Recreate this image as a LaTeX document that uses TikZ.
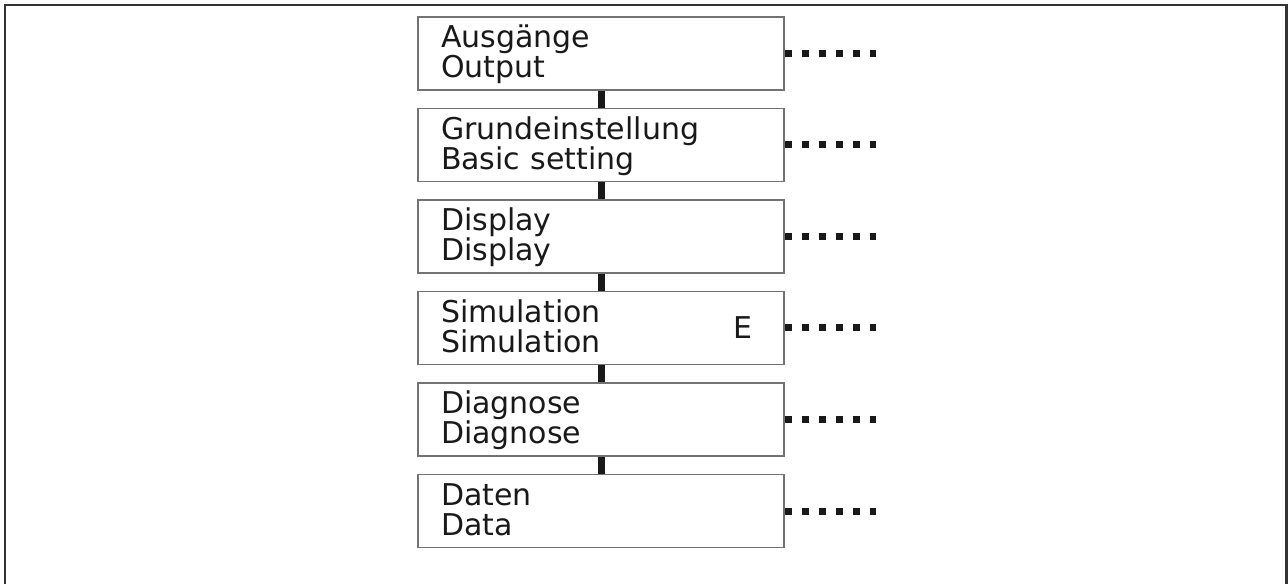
\documentclass[tikz,border=0pt]{standalone}
\usepackage{fontspec}
\setmainfont{DejaVu Sans}
\begin{document}
\begin{tikzpicture}[x=1pt,y=1pt,
  menubox/.style={draw=gray!90!black, line width=1.2pt, rectangle, minimum width=366pt, minimum height=73pt,
    text width=320pt, inner xsep=23pt, inner ysep=0pt, text height=31pt, text depth=42pt, align=left,
    font=\fontsize{30}{30}\selectfont, text=black!90},
  link/.style={line width=7pt, black!90},
  more/.style={line width=7pt, black!90, dash pattern=on 7pt off 10pt}]
\useasboundingbox (0,0) rectangle (1288,584);
\draw[line width=2.3pt, black!80] (5,0) -- (5,579) -- (1286.5,579) -- (1286.5,0);
\node[menubox] (out) at (601,530.5) {Ausgänge\\Output};
\node[menubox] (basic) at (601,439) {Grundeinstellung\\Basic setting};
\node[menubox] (disp) at (601,347.5) {Display\\Display};
\node[menubox] (sim) at (601,256) {Simulation\\Simulation};
\node[menubox] (diag) at (601,164.5) {Diagnose\\Diagnose};
\node[menubox] (data) at (601,73) {Daten\\Data};
\node[font=\fontsize{30}{30}\selectfont, text=black!90, inner sep=0pt, anchor=east] (simE) at ([xshift=-32pt]sim.east) {E};
\draw[link] (out) -- (basic);
\draw[link] (basic) -- (disp);
\draw[link] (disp) -- (sim);
\draw[link] (sim) -- (diag);
\draw[link] (diag) -- (data);
\coordinate (outend) at ([xshift=91pt]out.east);
\coordinate (basicend) at ([xshift=91pt]basic.east);
\coordinate (dispend) at ([xshift=91pt]disp.east);
\coordinate (simend) at ([xshift=91pt]sim.east);
\coordinate (diagend) at ([xshift=91pt]diag.east);
\coordinate (dataend) at ([xshift=91pt]data.east);
\draw[more] (out.east) -- (outend);
\draw[more] (basic.east) -- (basicend);
\draw[more] (disp.east) -- (dispend);
\draw[more] (sim.east) -- (simend);
\draw[more] (diag.east) -- (diagend);
\draw[more] (data.east) -- (dataend);
\end{tikzpicture}
\end{document}
